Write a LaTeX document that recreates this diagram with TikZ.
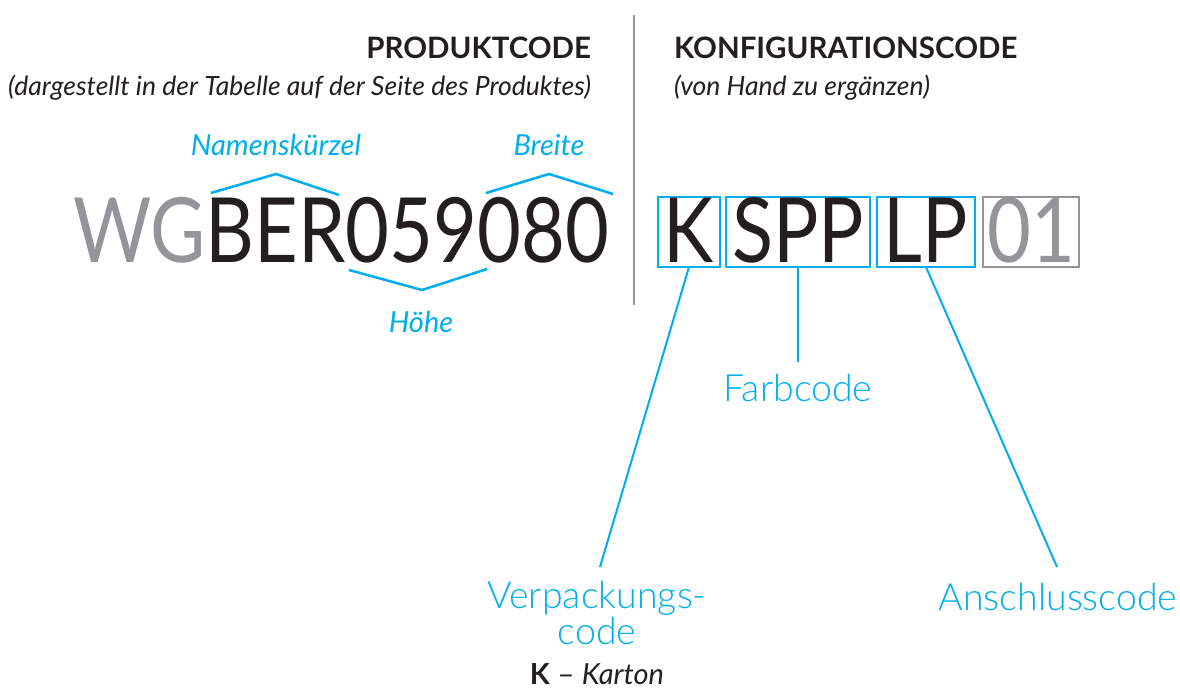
\documentclass[tikz,border=0pt]{standalone}
\usepackage{fontspec}
\setmainfont{Lato}
\newfontfamily\lightfont{Lato Light}
\definecolor{cy}{HTML}{00AEEF}
\definecolor{gr}{HTML}{939598}
\definecolor{dk}{HTML}{231F20}
\newcommand{\narrow}[1]{\scalebox{0.84}[1]{#1}}
\begin{document}
\begin{tikzpicture}[x=1pt,y=-1pt,
  every node/.style={inner sep=0pt,outer sep=0pt},
  head/.style={font=\fontsize{29.5}{29.5}\selectfont\bfseries,text=dk},
  sub/.style={font=\fontsize{26.5}{26.5}\selectfont\itshape,text=dk},
  lab/.style={font=\fontsize{29}{29}\selectfont\itshape,text=cy},
  big/.style={font=\fontsize{90}{90}\selectfont,text=dk},
  callout/.style={font=\lightfont\fontsize{37.5}{36}\selectfont,text=cy,align=center},
  note/.style={font=\fontsize{29}{29}\selectfont,text=dk},
  cbox/.style={draw=cy,line width=2pt,minimum height=70pt},
  gbox/.style={draw=gr,line width=2pt,minimum height=70pt},
  chev/.style={draw=cy,line width=2.5pt},
  conn/.style={draw=cy,line width=2pt}]
\useasboundingbox (0,0) rectangle (1180,688);
\fill[white] (0,0) rectangle (1180,688);
% divider
\draw[gr,line width=2pt] (634,15) coordinate (d1) -- (634,305) coordinate (d2);
% headings
\node[head,anchor=base east] (ph) at (591,58) {PRODUKTCODE};
\node[sub,anchor=base east] (ps) at (591,95) {(dargestellt in der Tabelle auf der Seite des Produktes)};
\node[head,anchor=base west] (kh) at (674,58) {KONFIGURATIONSCODE};
\node[sub,anchor=base west] (ks) at (674,95) {(von Hand zu ergänzen)};
% product code
\node[big,anchor=base west] (code) at (73,262) {\narrow{\textcolor{gr}{WG}BER059080}};
% chevrons
\node[lab,anchor=base] (nk) at (276,155) {Namenskürzel};
\node[lab,anchor=base] (br) at (549,155) {Breite};
\node[lab,anchor=base] (hh) at (421,332) {Höhe};
\draw[chev] (211,193) coordinate (n1) -- (276,174) coordinate (n2) -- (339,195) coordinate (n3);
\draw[chev] (486,193) coordinate (b1) -- (549,174) coordinate (b2) -- (613,194) coordinate (b3);
\draw[chev] (349,270) coordinate (h1) -- (422,290) coordinate (h2) -- (487,269) coordinate (h3);
% configuration boxes
\node[cbox,minimum width=62pt] (kbox) at (689,232) {};
\node[cbox,minimum width=144pt] (sbox) at (798,232) {};
\node[cbox,minimum width=98pt] (lbox) at (926,232) {};
\node[gbox,minimum width=96pt] (obox) at (1031,232) {};
\node[big,anchor=base] (kt) at (689,262) {\narrow{K}};
\node[big,anchor=base] (st) at (798,262) {\narrow{SPP}};
\node[big,anchor=base] (lt) at (926,262) {\narrow{LP}};
\node[big,anchor=base,text=gr] (ot) at (1031,262) {\narrow{01}};
% callouts
\node[callout,anchor=base] (fc) at (798,401) {Farbcode};
\node[callout,anchor=base] (vc) at (597,644) {Verpackungs-\\code};
\node[callout,anchor=base] (ac) at (1058,610) {Anschlusscode};
\node[note,anchor=base] (kk) at (597,684) {\textbf{K} -- \textit{Karton}};
\coordinate (fe) at (798,362);
\coordinate (ve) at (600,567);
\coordinate (ae) at (1057,567);
\draw[conn] (kbox.south) -- (ve);
\draw[conn] (sbox.south) -- (fe);
\draw[conn] (lbox.south) -- (ae);
\end{tikzpicture}
\end{document}
